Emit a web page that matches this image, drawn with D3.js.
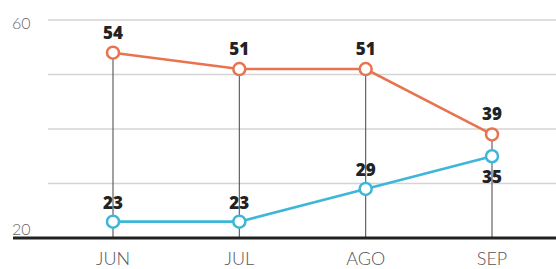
<!DOCTYPE html>
<html><head><meta charset="utf-8">
<script src="https://cdn.jsdelivr.net/npm/d3@7"></script>
<style>body{margin:0;background:#fff}svg{display:block}</style>
</head><body>
<svg id="c" width="556" height="269"></svg>
<script>
const months = ["JUN","JUL","AGO","SEP"];
const seriesTop = [54,51,51,39];
const seriesBottom = [23,23,29,35];
const yTicks = [20,30,40,50,60];
const yTickLabels = ["20","60"];

const svg = d3.select("#c");
const x = d3.scalePoint().domain(months).range([113,492]);
const y = d3.scaleLinear().domain([20,60]).range([238,20]);

// gridlines
svg.append("g").selectAll("line").data(yTicks.filter(d=>d>20)).join("line")
  .attr("x1",48).attr("x2",556).attr("y1",d=>y(d)).attr("y2",d=>y(d))
  .attr("stroke","#d4d4d4").attr("stroke-width",1.3);

// y labels
svg.append("g").selectAll("text").data(yTickLabels).join("text")
  .attr("x",12).attr("y",d=>y(+d)+(+d===20?-3:9))
  .attr("font-family","Lato, 'Open Sans', sans-serif").attr("font-weight",300)
  .attr("font-size",16).attr("fill","#666").text(d=>d);

// vertical lines
svg.append("g").selectAll("line").data(months).join("line")
  .attr("x1",d=>x(d)).attr("x2",d=>x(d))
  .attr("y1",(d,i)=>y(Math.max(seriesTop[i],seriesBottom[i])))
  .attr("y2",y(20))
  .attr("stroke","#555").attr("stroke-width",1.1);

// baseline
svg.append("line").attr("x1",13).attr("x2",556).attr("y1",y(20)).attr("y2",y(20))
  .attr("stroke","#222").attr("stroke-width",3);

// x labels
svg.append("g").selectAll("text").data(months).join("text")
  .attr("x",d=>x(d)).attr("y",265).attr("text-anchor","middle")
  .attr("font-family","Lato, 'Open Sans', sans-serif").attr("font-weight",300)
  .attr("font-size",18).attr("fill","#555").text(d=>d);

function drawSeries(vals,color,labelOffsets){
  const line = d3.line().x((d,i)=>x(months[i])).y(d=>y(d));
  svg.append("path").datum(vals).attr("d",line).attr("fill","none")
    .attr("stroke",color).attr("stroke-width",2.6);
  svg.append("g").selectAll("circle").data(vals).join("circle")
    .attr("cx",(d,i)=>x(months[i])).attr("cy",d=>y(d)).attr("r",6)
    .attr("fill","#fff").attr("stroke",color).attr("stroke-width",2.5);
  svg.append("g").selectAll("text").data(vals).join("text")
    .attr("x",(d,i)=>x(months[i])).attr("y",(d,i)=>y(d)+labelOffsets[i])
    .attr("text-anchor","middle")
    .attr("font-family","'Open Sans', Lato, sans-serif").attr("font-weight",800)
    .attr("font-size",17).attr("fill","#222").text(d=>d);
}
drawSeries(seriesTop,"#e8744f",[-14,-14,-14,-14]);
drawSeries(seriesBottom,"#3db6d9",[-13,-13,-13,27]);
</script>
</body></html>
